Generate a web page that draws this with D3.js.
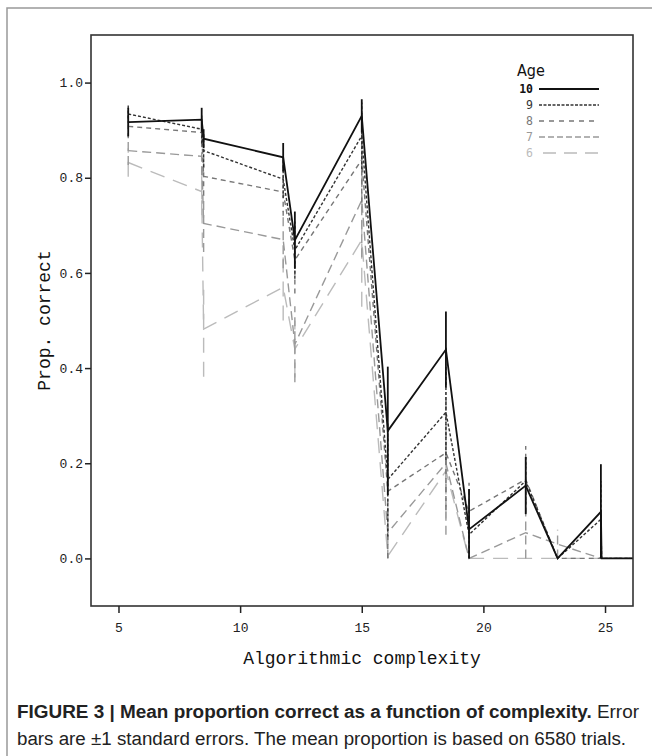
<!DOCTYPE html>
<html>
<head>
<meta charset="utf-8">
<script src="https://cdn.jsdelivr.net/npm/d3@7"></script>
<style>
  body { margin: 0; background: #fff; }
  .tick-label { font-family: "Liberation Mono", "DejaVu Sans Mono", monospace; font-size: 13px; fill: #222; }
  .axis-title { font-family: "Liberation Mono", "DejaVu Sans Mono", monospace; font-size: 18px; fill: #111; }
  .caption { font-family: "Liberation Sans", Arial, sans-serif; font-size: 18px; fill: #222; }
</style>
</head>
<body>
<script>
// x positions of the complexity bins
var complexity = [5.4, 8.42, 8.5, 11.77, 12.25, 15.0, 16.07, 18.46, 19.41, 21.74, 23.05, 24.83, 24.86, 26.5];

// mean proportion correct per age group
var age10 = [0.917, 0.922, 0.882, 0.843, 0.669, 0.930, 0.268, 0.439, 0.061, 0.153, 0, 0.098, 0, 0];
var age9  = [0.934, 0.902, 0.857, 0.797, 0.648, 0.888, 0.166, 0.307, 0.050, 0.163, 0, 0.082, 0, 0];
var age8  = [0.908, 0.895, 0.803, 0.770, 0.627, 0.838, 0.141, 0.222, 0.099, 0.166, 0, 0, 0, 0];
var age7  = [0.857, 0.845, 0.704, 0.670, 0.450, 0.753, 0.054, 0.200, 0, 0.054, 0.030, 0, 0, 0];
var age6  = [0.832, 0.771, 0.482, 0.570, 0.440, 0.669, 0.005, 0.184, 0, 0, 0, 0, 0, 0];

// standard errors (error bars are +-1 se)
var se10 = [0.03, 0.025, 0.02, 0.03, 0.06, 0.035, 0.135, 0.08, 0.085, 0.06, 0, 0.1, 0, 0];
var se9  = [0.02, 0.03, 0.035, 0.04, 0.06, 0.07, 0.12, 0.1, 0.05, 0.05, 0, 0.08, 0, 0];
var se8  = [0.025, 0.03, 0.04, 0.05, 0.07, 0.09, 0.14, 0.12, 0.06, 0.07, 0, 0, 0, 0];
var se7  = [0.03, 0.04, 0.06, 0.06, 0.08, 0.12, 0.06, 0.15, 0, 0.06, 0.03, 0, 0, 0];
var se6  = [0.03, 0.05, 0.1, 0.07, 0.06, 0.14, 0.005, 0.1, 0, 0, 0, 0, 0, 0];

var ages = ["10", "9", "8", "7", "6"];
var xTicks = [5, 10, 15, 20, 25];
var yTicks = [0.0, 0.2, 0.4, 0.6, 0.8, 1.0];

// line styles per age
var styles = {
  "10": {color: "#111", dash: null, width: 1.8, legendDash: null},
  "9":  {color: "#333", dash: "3,2", width: 1.4, legendDash: "3,1.5"},
  "8":  {color: "#777", dash: "5,4", width: 1.4, legendDash: "5,5"},
  "7":  {color: "#999", dash: "9,5", width: 1.4, legendDash: "6,3"},
  "6":  {color: "#bbb", dash: "15,9", width: 1.4, legendDash: "13,8"}
};

var series = [
  {age: "6", values: age6, se: se6},
  {age: "7", values: age7, se: se7},
  {age: "8", values: age8, se: se8},
  {age: "9", values: age9, se: se9},
  {age: "10", values: age10, se: se10}
];

var W = 652, H = 756;
var plot = {left: 91, right: 633, top: 35, bottom: 606};

var svg = d3.select("body").append("svg")
    .attr("width", W)
    .attr("height", H);

// outer figure frame
svg.append("path")
    .attr("d", "M7," + H + "V8H" + (W + 5))
    .attr("fill", "none")
    .attr("stroke", "#999")
    .attr("stroke-width", 1.5);

var x = d3.scaleLinear().domain([3.87, 26.15]).range([plot.left, plot.right]);
var y = d3.scaleLinear().domain([-0.1, 1.1]).range([plot.bottom, plot.top]);

svg.append("clipPath").attr("id", "clip")
  .append("rect")
    .attr("x", plot.left).attr("y", plot.top)
    .attr("width", plot.right - plot.left)
    .attr("height", plot.bottom - plot.top);

var g = svg.append("g").attr("clip-path", "url(#clip)");

var line = d3.line()
    .x(function(d) { return x(d.x); })
    .y(function(d) { return y(d.v); });

series.forEach(function(s) {
  var st = styles[s.age];
  var pts = complexity.map(function(c, i) { return {x: c, v: s.values[i], se: s.se[i]}; });

  // error bars
  g.selectAll(".err" + s.age)
      .data(pts.filter(function(d) { return d.se > 0; }))
    .enter().append("line")
      .attr("x1", function(d) { return x(d.x); })
      .attr("x2", function(d) { return x(d.x); })
      .attr("y1", function(d) { return y(Math.max(0, d.v - d.se)); })
      .attr("y2", function(d) { return y(Math.min(1, d.v + d.se)); })
      .attr("stroke", st.color)
      .attr("stroke-width", st.width)
      .attr("stroke-dasharray", st.dash);

  g.append("path")
      .datum(pts)
      .attr("d", line)
      .attr("fill", "none")
      .attr("stroke", st.color)
      .attr("stroke-width", st.width)
      .attr("stroke-dasharray", st.dash);
});

// plot frame
svg.append("rect")
    .attr("x", plot.left).attr("y", plot.top)
    .attr("width", plot.right - plot.left)
    .attr("height", plot.bottom - plot.top)
    .attr("fill", "none")
    .attr("stroke", "#333")
    .attr("stroke-width", 1.6);

// y axis
var yAxis = svg.append("g")
    .attr("transform", "translate(" + plot.left + ",0)")
    .call(d3.axisLeft(y).tickValues(yTicks).tickSize(6).tickFormat(d3.format(".1f")));
yAxis.select(".domain").remove();
yAxis.selectAll(".tick line").attr("stroke", "#222").attr("stroke-width", 1.5);
yAxis.selectAll(".tick text").attr("class", "tick-label").attr("x", -8).attr("font-family", null).attr("font-size", null);

// x axis
var xAxis = svg.append("g")
    .attr("transform", "translate(0," + plot.bottom + ")")
    .call(d3.axisBottom(x).tickValues(xTicks).tickSize(7));
xAxis.select(".domain").remove();
xAxis.selectAll(".tick line").attr("stroke", "#222").attr("stroke-width", 1.5);
xAxis.selectAll(".tick text").attr("class", "tick-label").attr("y", 17).attr("font-family", null).attr("font-size", null);

// axis titles
svg.append("text")
    .attr("class", "axis-title")
    .attr("text-anchor", "middle")
    .attr("transform", "translate(50," + ((plot.top + plot.bottom) / 2) + ") rotate(-90)")
    .text("Prop. correct");

svg.append("text")
    .attr("class", "axis-title")
    .attr("text-anchor", "middle")
    .attr("x", (plot.left + plot.right) / 2)
    .attr("y", 664)
    .text("Algorithmic complexity");

// legend
var legend = svg.append("g");
legend.append("text")
    .attr("x", 517).attr("y", 76)
    .attr("font-family", "'DejaVu Sans Condensed', 'DejaVu Sans', sans-serif")
    .attr("font-size", 16)
    .attr("fill", "#111")
    .text("Age");

ages.forEach(function(a, i) {
  var st = styles[a];
  var yy = 89 + i * 16;
  legend.append("text")
      .attr("x", 533).attr("y", yy + 4)
      .attr("text-anchor", "end")
      .attr("font-family", "'DejaVu Sans Mono', monospace")
      .attr("font-size", 11.5)
      .attr("font-weight", a === "10" ? "bold" : "normal")
      .attr("fill", st.color)
      .text(a);
  legend.append("line")
      .attr("x1", a === "6" ? 543 : 539).attr("x2", 599)
      .attr("y1", yy).attr("y2", yy)
      .attr("stroke", st.color)
      .attr("stroke-width", a === "10" ? 1.8 : 1.3)
      .attr("stroke-dasharray", st.legendDash);
});

// caption
var cap1 = svg.append("text").attr("class", "caption").attr("x", 17).attr("y", 718)
    .attr("textLength", 622).attr("lengthAdjust", "spacingAndGlyphs");
cap1.append("tspan").attr("font-weight", "bold").text("FIGURE 3 | Mean proportion correct as a function of complexity.");
cap1.append("tspan").text(" Error");
svg.append("text").attr("class", "caption").attr("x", 17).attr("y", 745)
    .attr("textLength", 609).attr("lengthAdjust", "spacingAndGlyphs")
    .text("bars are \u00b11 standard errors. The mean proportion is based on 6580 trials.");
</script>
</body>
</html>
